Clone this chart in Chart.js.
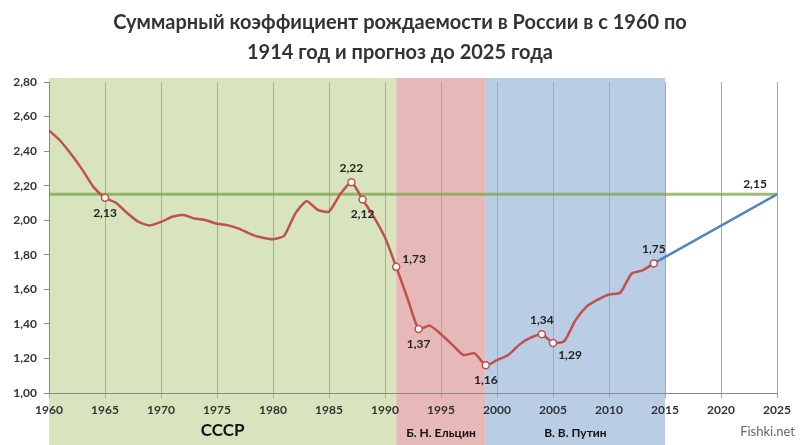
<!DOCTYPE html>
<html>
<head>
<meta charset="utf-8">
<script src="https://cdn.jsdelivr.net/npm/chart.js@4/dist/chart.umd.min.js"></script>
<style>
  html, body { margin: 0; padding: 0; background: #fff; }
  #wrap { width: 800px; height: 445px; }
</style>
</head>
<body>
<div id="wrap"><canvas id="myChart" width="800" height="445"></canvas></div>
<script>
const years = [1960,1961,1962,1963,1964,1965,1966,1967,1968,1969,1970,1971,1972,1973,1974,1975,1976,1977,1978,1979,1980,1981,1982,1983,1984,1985,1986,1987,1988,1989,1990,1991,1992,1993,1994,1995,1996,1997,1998,1999,2000,2001,2002,2003,2004,2005,2006,2007,2008,2009,2010,2011,2012,2013,2014];
const tfr = [2.52,2.46,2.38,2.29,2.19,2.13,2.10,2.04,1.99,1.97,1.99,2.02,2.03,2.01,2.00,1.98,1.97,1.95,1.92,1.90,1.89,1.91,2.04,2.11,2.06,2.05,2.15,2.22,2.12,2.02,1.90,1.73,1.55,1.37,1.39,1.34,1.28,1.22,1.23,1.16,1.19,1.22,1.28,1.32,1.34,1.29,1.30,1.42,1.50,1.54,1.57,1.58,1.69,1.71,1.75];
const forecastYears = [2014, 2025];
const forecast = [1.75, 2.15];
const replacementLevel = 2.15;
const markedYears = [1965, 1987, 1988, 1991, 1993, 1999, 2004, 2005, 2014];
const periods = [
  { name: 'СССР', from: 1960, to: 1991, color: '#d7e4bd' },
  { name: 'Б. Н. Ельцин', from: 1991, to: 1999, color: '#e6b9b8' },
  { name: 'В. В. Путин', from: 1999, to: 2015, color: '#b9cde5' }
];
const titleLines = ['Суммарный коэффициент рождаемости в России в с 1960 по', '1914 год и прогноз до 2025 года'];

const fmt = v => v.toFixed(2).replace('.', ',');
const FONT = 'Lato, "Open Sans", sans-serif';

// where each value label sits relative to its point
const labelPos = { 1965: 'below', 1987: 'above', 1988: 'below', 1991: 'right', 1993: 'below', 1999: 'below', 2004: 'above', 2005: 'belowright', 2014: 'above' };

const bandsPlugin = {
  id: 'bands',
  beforeDraw(chart) {
    const { ctx, chartArea, scales } = chart;
    ctx.save();
    periods.forEach(p => {
      const x1 = scales.x.getPixelForValue(p.from);
      const x2 = scales.x.getPixelForValue(p.to);
      ctx.fillStyle = p.color;
      ctx.fillRect(x1, chartArea.top - 4, x2 - x1, chart.height - chartArea.top + 4);
    });
    ctx.textAlign = 'center';
    ctx.textBaseline = 'middle';
    periods.forEach((p, i) => {
      const xm = (scales.x.getPixelForValue(p.from) + scales.x.getPixelForValue(p.to)) / 2;
      ctx.font = i == 0 ? 'bold 17px ' + FONT : 'bold 12px ' + FONT;
      ctx.fillStyle = '#111';
      ctx.fillText(p.name, xm, i == 0 ? 431 : 433);
    });
    // title
    ctx.font = 'bold 20px ' + FONT;
    ctx.fillStyle = '#333';
    ctx.fillText(titleLines[0], 400, 23);
    ctx.fillText(titleLines[1], 400, 53);
    // watermark
    ctx.font = '13px ' + FONT;
    ctx.fillStyle = '#666';
    ctx.textAlign = 'right';
    ctx.fillText('Fishki.net', 795, 432);
    ctx.restore();
  }
};

const labelsPlugin = {
  id: 'pointLabels',
  afterDatasetsDraw(chart) {
    const { ctx, scales } = chart;
    ctx.save();
    ctx.font = 'bold 12px ' + FONT;
    ctx.fillStyle = '#222';
    ctx.textBaseline = 'middle';
    markedYears.forEach(y => {
      const v = tfr[years.indexOf(y)];
      const px = scales.x.getPixelForValue(y);
      const py = scales.y.getPixelForValue(v);
      const pos = labelPos[y];
      ctx.textAlign = 'center';
      let dx = 0, dy = 0;
      if (pos == 'above') dy = -14;
      if (pos == 'below') dy = 15;
      if (pos == 'right') { ctx.textAlign = 'left'; dx = 6; dy = -8; }
      if (pos == 'belowright') { dx = 17; dy = 12; }
      ctx.fillText(fmt(v), px + dx, py + dy);
    });
    const lx = scales.x.getPixelForValue(forecastYears[1]);
    const ly = scales.y.getPixelForValue(forecast[1]);
    ctx.textAlign = 'center';
    ctx.fillText(fmt(forecast[1]), lx - 22, ly - 10);
    ctx.restore();
  }
};

const ctx = document.querySelector('#myChart');
const myChart = new Chart(ctx, {
  type: 'line',
  data: {
    datasets: [
      {
        label: 'level',
        data: [{ x: 1960, y: replacementLevel }, { x: 2025, y: replacementLevel }],
        borderColor: 'rgba(125,165,75,0.75)',
        borderWidth: 3,
        pointRadius: 0,
        order: 3
      },
      {
        label: 'forecast',
        data: forecastYears.map((y, i) => ({ x: y, y: forecast[i] })),
        borderColor: '#4f86c0',
        borderWidth: 2.5,
        pointRadius: 0,
        order: 2
      },
      {
        label: 'tfr',
        data: years.map((y, i) => ({ x: y, y: tfr[i] })),
        borderColor: '#c0504d',
        borderWidth: 2.5,
        tension: 0.2,
        pointRadius: years.map(y => markedYears.includes(y) ? 3.5 : 0),
        pointBackgroundColor: '#fff',
        pointBorderColor: '#c0504d',
        pointBorderWidth: 1.5,
        order: 1
      }
    ]
  },
  options: {
    responsive: false,
    animation: false,
    layout: { padding: { top: 82, right: 23, left: 0, bottom: 0 } },
    plugins: { legend: { display: false }, tooltip: { enabled: false } },
    scales: {
      x: {
        type: 'linear',
        min: 1960,
        max: 2025,
        ticks: { stepSize: 5, color: '#333', font: { family: FONT, size: 12, weight: 'bold' }, padding: 5, maxRotation: 0, callback: v => String(v) },
        grid: { color: '#a4aaa4', tickLength: 5, lineWidth: 1 },
        border: { color: '#8a8a8a', width: 1 },
        afterFit: s => { s.height = 52; }
      },
      y: {
        min: 1.0,
        max: 2.8,
        ticks: { stepSize: 0.2, color: '#333', font: { family: FONT, size: 12, weight: 'bold' }, padding: 7, callback: v => fmt(v) },
        grid: { drawOnChartArea: false, tickLength: 5, color: '#8a8a8a' },
        border: { color: '#8a8a8a', width: 1 },
        afterFit: s => { s.width = 49; }
      }
    }
  },
  plugins: [bandsPlugin, labelsPlugin]
});
</script>
</body>
</html>
